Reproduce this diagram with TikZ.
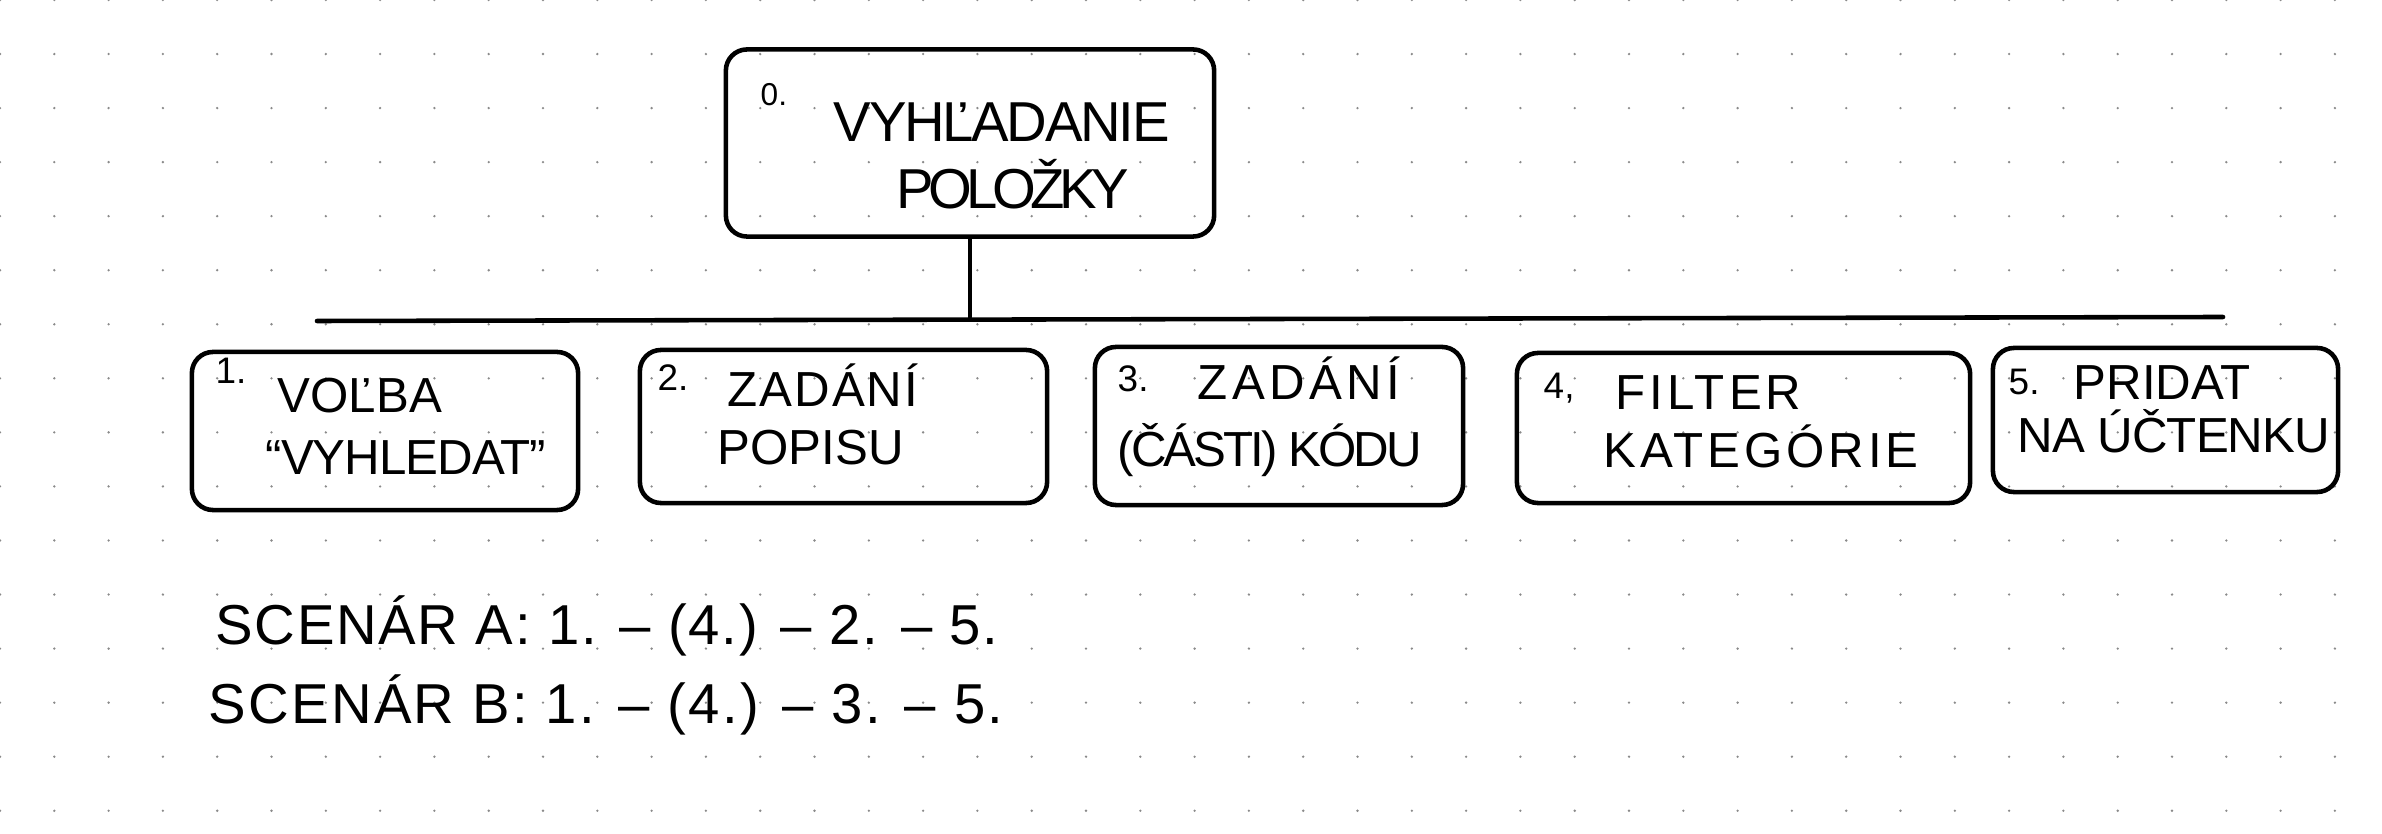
\documentclass[tikz,border=0pt]{standalone}
\usepackage{fontspec}
\setmainfont{Liberation Sans}
\newcommand\LS[1]{\addfontfeatures{LetterSpace=#1}}
\definecolor{dotc}{HTML}{8A8A8A}
\begin{document}
\begin{tikzpicture}[x=0.01cm,y=-0.01cm,
  box/.style={draw, line width=1.3pt, rounded corners=6pt, inner sep=0pt},
  conn/.style={line width=1.3pt, line cap=round},
  num/.style={anchor=base west, inner sep=0pt, font=\fontsize{10.5}{12}\selectfont},
  lbl/.style={anchor=base west, inner sep=0pt, font=\fontsize{14}{16}\selectfont\LS{#1}},
  big/.style={anchor=base west, inner sep=0pt, font=\fontsize{16}{19}\selectfont\LS{#1}},
  scen/.style={anchor=base west, inner sep=0pt, font=\fontsize{16}{19}\selectfont\LS{#1}}]
\useasboundingbox (0,0) rectangle (2382,834);
\fill[white] (0,0) rectangle (2382,834);
\foreach \i in {0,...,43} {\foreach \j in {0,...,15} {\fill[dotc] (\i*54.3,\j*54.05) circle[radius=1.3];}}
% boxes
\node[box, minimum width=4.88cm, minimum height=1.87cm] (top) at (970,143) {};
\node[box, minimum width=3.86cm, minimum height=1.58cm] (b1) at (385,431) {};
\node[box, minimum width=4.07cm, minimum height=1.53cm] (b2) at (843.5,426.5) {};
\node[box, minimum width=3.68cm, minimum height=1.58cm] (b3) at (1279,426) {};
\node[box, minimum width=4.53cm, minimum height=1.50cm] (b4) at (1743.5,428) {};
\node[box, minimum width=3.45cm, minimum height=1.44cm] (b5) at (2165.5,420) {};
% connectors
\coordinate (barL) at (317,321);
\coordinate (barR) at (2223,317);
\draw[conn] (barL) -- (barR);
\draw[conn] (top.south) -- (top.south |- barR);
% texts
\node[num, font=\fontsize{9}{10}\selectfont] (t0n) at (760,106) {0.};
\node[big=-4] (t0a) at (833,142) {VYHĽADANIE};
\node[big=-10] (t0b) at (896,209) {POLOŽKY};
\node[num] (t1n) at (215,384) {1.};
\node[lbl=0] (t1a) at (277,413) {VOĽBA};
\node[lbl=-2] (t1b) at (265,475) {“VYHLEDAT”};
\node[num] (t2n) at (657,391) {2.};
\node[lbl=4] (t2a) at (727,407) {ZADÁNÍ};
\node[lbl=0] (t2b) at (717,465) {POPISU};
\node[num] (t3n) at (1117,392) {3.};
\node[lbl=9] (t3a) at (1197,400) {ZADÁNÍ};
\node[lbl=-6] (t3b) at (1117,467) {(ČÁSTI) KÓDU};
\node[num] (t4n) at (1543,399) {4,};
\node[lbl=8] (t4a) at (1615,410) {FILTER};
\node[lbl=8] (t4b) at (1603,468) {KATEGÓRIE};
\node[num] (t5n) at (2008,395) {5.};
\node[lbl=0] (t5a) at (2073,400) {PRIDAT};
\node[lbl=-2] (t5b) at (2017,453) {NA ÚČTENKU};
\node[scen=3] (sa) at (215,645) {SCENÁR A: 1. – (4.) – 2. – 5.};
\node[scen=4] (sb) at (208,723) {SCENÁR B: 1. – (4.) – 3. – 5.};
\end{tikzpicture}
\end{document}
